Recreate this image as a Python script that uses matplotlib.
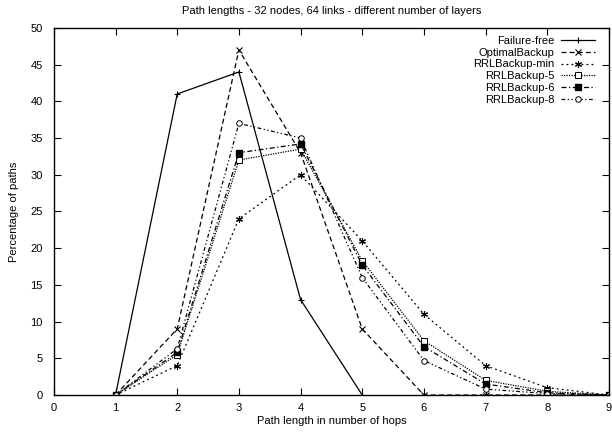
import matplotlib
matplotlib.use('Agg')
import matplotlib.pyplot as plt

#==================================================================================
#                                   Data
#==================================================================================
hops_ff = [1, 2, 3, 4, 5]
failure_free = [0, 41, 44, 13, 0]

hops = [1, 2, 3, 4, 5, 6, 7, 8, 9]
optimal_backup = [0, 9, 47, 33, 9, 0, 0, 0, 0]
rrl_min = [0, 4, 24, 30, 21, 11, 4, 1, 0]
rrl_5 = [0, 5.5, 32, 33.5, 18.3, 7.4, 2.0, 0.5, 0]
rrl_6 = [0, 5.8, 33, 34.2, 17.7, 6.6, 1.5, 0.3, 0]
rrl_8 = [0, 6.3, 37, 35, 16, 4.7, 0.8, 0.2, 0]

xticks = list(range(0, 10))
yticks = list(range(0, 55, 5))

#==================================================================================
#                                   Plot
#==================================================================================
plt.rcParams['font.family'] = ['Liberation Sans', 'DejaVu Sans']
plt.rcParams['font.size'] = 8

fig = plt.figure(figsize=(6.12, 4.36), dpi=100)
ax = fig.add_axes([0.088, 0.094, 0.907, 0.842])

lw = 0.9
ax.plot(hops_ff, failure_free, color='black', lw=lw, ls='-', marker='+', ms=5,
        mew=0.8, label='Failure-free')
ax.plot(hops, optimal_backup, color='black', lw=lw, ls=(0, (4, 2.5)), marker='x',
        ms=4, mew=0.8, label='OptimalBackup')
ax.plot(hops, rrl_min, color='black', lw=lw, ls=(0, (1.5, 2.5)), marker=(6, 2, 0),
        ms=5, mew=0.8, label='RRLBackup-min')
ax.plot(hops, rrl_5, color='black', lw=lw, ls=(0, (1, 1)), marker='s', ms=4,
        mfc='white', mew=0.7, label='RRLBackup-5')
ax.plot(hops, rrl_6, color='black', lw=lw, ls=(0, (4, 2, 1, 2)), marker='s', ms=4,
        mfc='black', label='RRLBackup-6')
ax.plot(hops, rrl_8, color='black', lw=lw, ls=(0, (3, 2, 1, 2, 1, 2)), marker='o',
        ms=4, mfc='white', mew=0.7, label='RRLBackup-8')

ax.set_xlim(0, 9)
ax.set_ylim(0, 50)
ax.set_xticks(xticks)
ax.set_yticks(yticks)
ax.tick_params(direction='in', top=True, right=True, length=5, width=0.8)
ax.tick_params(axis='x', labeltop=False, pad=6)
ax.tick_params(axis='y', pad=8)
for s in ax.spines.values():
    s.set_linewidth(1.0)

ax.set_title('Path lengths - 32 nodes, 64 links - different number of layers',
             fontsize=8, pad=10)
ax.set_xlabel('Path length in number of hops', labelpad=2)
ax.set_ylabel('Percentage of paths', labelpad=8)

ax.legend(loc='upper right', bbox_to_anchor=(0.988, 1.0), frameon=False,
          markerfirst=False, handlelength=3.0, handletextpad=0.6,
          labelspacing=0.17, borderpad=0.2, fontsize=8)

fig.savefig('out.png', dpi=100)
